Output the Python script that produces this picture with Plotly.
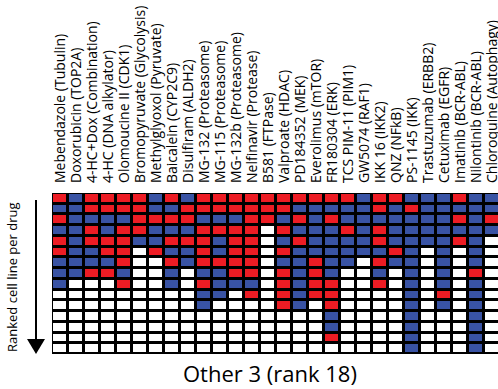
import plotly.graph_objects as go

# Drugs (columns), ordered as plotted
drugs = [
    "Mebendazole (Tubulin)", "Doxorubicin (TOP2A)", "4-HC+Dox (Combination)",
    "4-HC (DNA alkylator)", "Olomoucine II (CDK1)", "Bromopyruvate (Glycolysis)",
    "Methylglyoxol (Pyruvate)", "Baicalein (CYP2C9)", "Disulfiram (ALDH2)",
    "MG-132 (Proteasome)", "MG-115 (Proteasome)", "MG-132b (Proteasome)",
    "Nelfinavir (Protease)", "B581 (FTPase)", "Valproate (HDAC)",
    "PD184352 (MEK)", "Everolimus (mTOR)", "FR180304 (ERK)",
    "TCS PIM-11 (PIM1)", "GW5074 (RAF1)", "IKK 16 (IKK2)", "QNZ (NFkB)",
    "PS-1145 (IKK)", "Trastuzumab (ERBB2)", "Cetuximab (EGFR)",
    "Imatinib (BCR-ABL)", "Nilontinib (BCR-ABL)", "Chloroquine (Autophagy)",
]

# Ranked cell lines per drug, one string per rank (top = rank 1).
# R = red, B = blue, W = not ranked
rank_rows = [
    "RBRRRRBRBRRRRRRRRRRBRRBBBRBB",
    "BBRRRRBBRRRRRRRBBBBBRBRBBBBB",
    "RBBBBRRRRBBBRRBRBRBBBBBBBRBR",
    "BBRBRRBBBRRRRWRBBBRBRBBBBBBB",
    "RBRRRBBRRRBRRWBRBBBBRBBBBRBW",
    "RBBRRWRBBRBRRWRBBBBBBRBWBWBW",
    "BBBBRWWRBRRRRWBBRBBWRBBWBWBW",
    "BBRRBWWBWBBRRWRBRBWWBWBWBWRW",
    "BWWWRWWBWRBBBWRBRRWWRWBWBWBW",
    "WWWWWWWWWBBWRWRBRRWWWWBWRWBW",
    "WWWWWWWWWBWWWWRBWRWWWWBWBWBW",
    "WWWWWWWWWWWWWWWWWBWWWWBWWWBW",
    "WWWWWWWWWWWWWWWWWBWWWWBWWWBW",
    "WWWWWWWWWWWWWWWWWRWWWWBWWWBW",
    "WWWWWWWWWWWWWWWWWWWWWWBWWWBW",
]

code = {"W": 0, "R": 1, "B": 2}
RED = "#ED1C24"
BLUE = "#3953A4"

z = [[code[c] for c in row] for row in rank_rows]

fig = go.Figure(
    go.Heatmap(
        z=z,
        x=list(range(len(drugs))),
        y=list(range(len(rank_rows))),
        zmin=0,
        zmax=2,
        colorscale=[[0, "white"], [0.5, RED], [1, BLUE]],
        showscale=False,
        xgap=3,
        ygap=3,
        hoverinfo="skip",
    )
)

label_font = dict(family="Open Sans", size=14, color="black")

fig.update_xaxes(
    side="top",
    tickmode="array",
    tickvals=list(range(len(drugs))),
    ticktext=drugs,
    tickangle=-90,
    ticks="",
    tickfont=label_font,
    ticklabelstandoff=9,
    ticklabeloverflow="allow",
    range=[-0.5, 27.375],
    showgrid=False,
    zeroline=False,
    automargin=False,
)
fig.update_yaxes(
    autorange="reversed",
    showticklabels=False,
    ticks="",
    showgrid=False,
    zeroline=False,
)

# Axis caption with a downward arrow
fig.add_annotation(
    text="Ranked cell line per drug",
    xref="paper", yref="paper",
    x=(12 - 52) / 446, y=(354 - 277) / 161,
    xanchor="center", yanchor="middle",
    textangle=-90, showarrow=False,
    font=dict(family="Open Sans", size=13, color="black"),
)
ax_x = (36 - 52) / 446
fig.add_shape(
    type="line", xref="paper", yref="paper",
    x0=ax_x, x1=ax_x, y0=(354 - 200) / 161, y1=(354 - 342) / 161,
    line=dict(color="black", width=2),
)
fig.add_shape(
    type="path", xref="paper", yref="paper",
    path="M {a},{b} L {c},{b} L {d},{e} Z".format(
        a=(27 - 52) / 446, c=(45 - 52) / 446, b=(354 - 339) / 161,
        d=ax_x, e=0,
    ),
    fillcolor="black", line=dict(color="black", width=0),
)

# Group caption under the grid
fig.add_annotation(
    text="Other 3 (rank 18)",
    xref="paper", yref="paper",
    x=(270 - 52) / 446, y=(354 - 373) / 161,
    xanchor="center", yanchor="middle", showarrow=False,
    font=dict(family="Open Sans", size=22, color="black"),
)

fig.update_layout(
    width=498,
    height=389,
    margin=dict(l=52, r=0, t=193, b=35, pad=0),
    plot_bgcolor="black",
    paper_bgcolor="white",
)

fig.write_html("out.html")
